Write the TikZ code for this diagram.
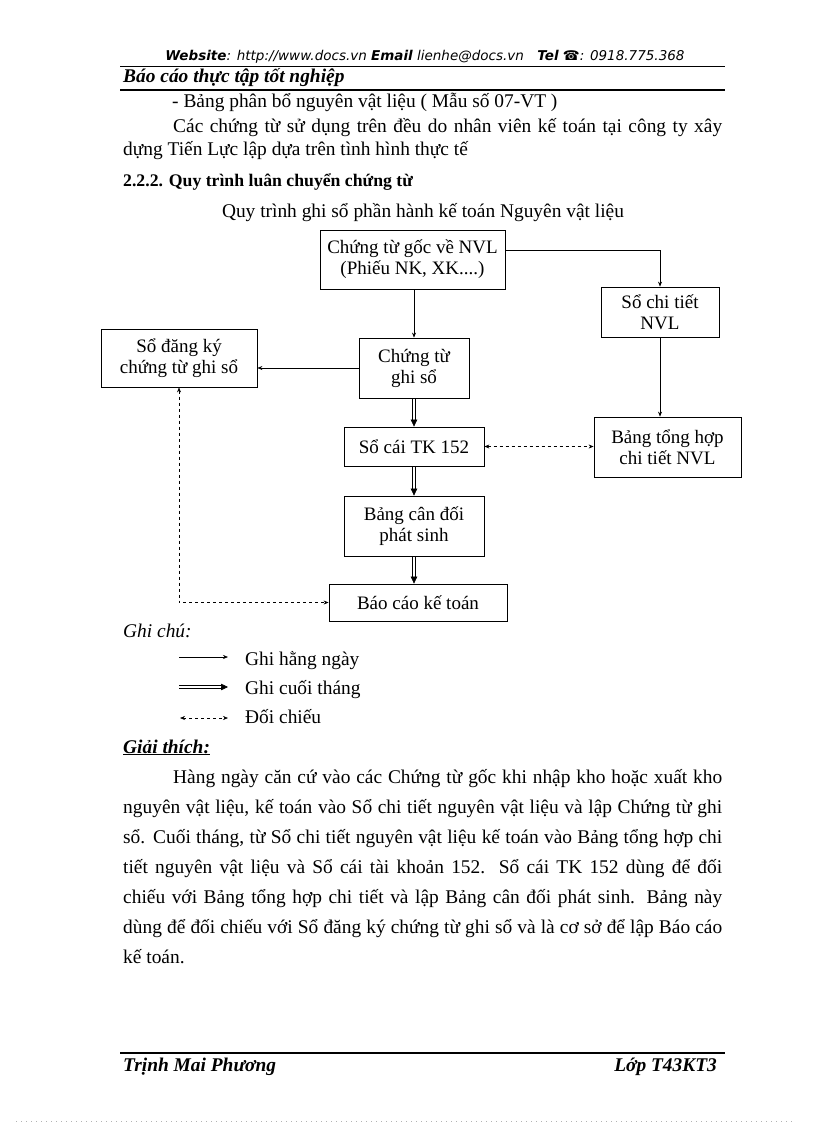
\documentclass[tikz,border=0pt]{standalone}
\usepackage{fontspec}
\usepackage{graphicx}
\setmainfont{Liberation Serif}
\newfontfamily\hdrfont{DejaVu Sans}
\usetikzlibrary{arrows.meta,calc}
\newcommand{\bodyfs}{\fontsize{19.4}{22}\selectfont}
\newcommand{\boxfs}{\fontsize{19}{21}\selectfont}
\newsavebox\jbox
\newcommand{\jline}[2]{\sbox\jbox{#2}\ifdim\wd\jbox>#1\resizebox{#1}{\height}{#2}\else\makebox[#1][s]{#2}\fi}
\begin{document}
\begin{tikzpicture}[x=1pt,y=-1pt,
  box/.style={draw, line width=0.8pt, inner sep=0pt, align=center, font=\boxfs},
  daily/.style={line width=0.6pt, -{Stealth[length=5pt,width=4pt]}},
  mline/.style={line width=0.7pt},
  tipf/.style={line width=0.6pt, -{Triangle[length=7pt,width=6.5pt]}},
  cmp/.style={line width=0.6pt, dash pattern=on 3pt off 3pt, {Stealth[length=5pt,width=4pt]}-{Stealth[length=5pt,width=4pt]}},
  txt/.style={anchor=base west, inner sep=0pt, font=\bodyfs},
  rtxt/.style={anchor=base east, inner sep=0pt, font=\bodyfs},
  ctxt/.style={anchor=base, inner sep=0pt, font=\bodyfs},
]
\useasboundingbox (0,0) rectangle (816,1123);
\fill[white] (0,0) rectangle (816,1123);

% ---- page header ----
\node[ctxt, font=\hdrfont\itshape\fontsize{13.5}{15}\selectfont] (web) at (425,61)
  {\textbf{Website}: http://www.docs.vn \textbf{Email} lienhe@docs.vn\quad\textbf{Tel} ☎: 0918.775.368};
\draw[line width=0.6pt] (120,66.5) -- (725,66.5);
\node[txt, font=\bodyfs\bfseries\itshape] (title) at (123,83) {Báo cáo thực tập tốt nghiệp};
\draw[line width=2pt] (120,90) -- (725,90);

% ---- text above ----
\node[txt] (l1) at (172,108) {- Bảng phân bổ nguyên vật liệu ( Mẫu số 07-VT )};
\node[txt] (l2) at (173,133) {\jline{549pt}{Các chứng từ sử dụng trên đều do nhân viên kế toán tại công ty xây}};
\node[txt] (l3) at (123,156) {dựng Tiến Lực lập dựa trên tình hình thực tế};
\node[txt, font=\fontsize{17.7}{20}\selectfont\bfseries] (sec) at (123,187) {2.2.2. Quy trình luân chuyển chứng từ};
\node[ctxt] (cap) at (423,218) {Quy trình ghi sổ phần hành kế toán Nguyên vật liệu};

% ---- diagram boxes ----
\node[box, minimum width=185pt, minimum height=59pt] (A) at (412.5,259.5) {Chứng từ gốc về NVL\\(Phiếu NK, XK....)};
\node[box, minimum width=118pt, minimum height=50pt] (B) at (660,312) {Sổ chi tiết\\NVL};
\node[box, minimum width=156pt, minimum height=58pt] (C) at (179,358) {Sổ đăng ký\\chứng từ ghi sổ};
\node[box, minimum width=110pt, minimum height=60pt] (D) at (414,368) {Chứng từ\\ghi sổ};
\node[box, minimum width=140pt, minimum height=39pt] (E) at (414,446.5) {Sổ cái TK 152};
\node[box, minimum width=147pt, minimum height=60pt] (F) at (667.5,447) {Bảng tổng hợp\\chi tiết NVL};
\node[box, minimum width=140pt, minimum height=60pt] (G) at (414,526) {Bảng cân đối\\phát sinh};
\node[box, minimum width=178pt, minimum height=37pt] (H) at (418,602.5) {Báo cáo kế toán};

% ---- connectors ----
\draw[daily] (D.north |- A.south) -- (D.north);
\draw[daily] ([yshift=9pt]A.east) -| (B.north);
\draw[daily] (B.south) -- (B.south |- F.north);
\draw[daily] (D.west) -- (D.west -| C.east);
% monthly (double) arrows
\coordinate (hT) at (G.south |- H.north);
\foreach \s/\t in {D.south/E.north, E.south/G.north, G.south/hT} {
  \draw[mline, shorten >=5pt] ([xshift=-1.3pt]\s) -- ([xshift=-1.3pt]\t);
  \draw[mline, shorten >=5pt] ([xshift=1.3pt]\s) -- ([xshift=1.3pt]\t);
  \draw[tipf] ([yshift=7pt]\t) -- (\t);
}
\draw[cmp] (E.east) -- (E.east -| F.west);
\draw[cmp] (C.south) |- (H.west);

% ---- legend ----
\node[txt, font=\bodyfs\itshape] (gc) at (123,637) {Ghi chú:};
\coordinate (a1) at (179,657); \coordinate (b1) at (228,657);
\coordinate (a2) at (179,687); \coordinate (b2) at (228,687);
\coordinate (a3) at (180,718); \coordinate (b3) at (228,718);
\draw[daily] (a1) -- (b1);
\draw[mline, shorten >=5pt] ([yshift=1.3pt]a2) -- ([yshift=1.3pt]b2);
\draw[mline, shorten >=5pt] ([yshift=-1.3pt]a2) -- ([yshift=-1.3pt]b2);
\draw[tipf] ([xshift=-7pt]b2) -- (b2);
\draw[cmp] (a3) -- (b3);
\node[txt] (t1) at (245,665) {Ghi hằng ngày};
\node[txt] (t2) at (245,694) {Ghi cuối tháng};
\node[txt] (t3) at (245,723) {Đối chiếu};

% ---- explanation ----
\node[txt, font=\bodyfs\bfseries\itshape] (gt) at (123,753) {\underline{Giải thích:}};
\node[txt] (p1) at (173,783) {\jline{549pt}{Hàng ngày căn cứ vào các Chứng từ gốc khi nhập kho hoặc xuất kho}};
\node[txt] (p2) at (123,813) {\jline{599pt}{nguyên vật liệu, kế toán vào Sổ chi tiết nguyên vật liệu và lập Chứng từ ghi}};
\node[txt] (p3) at (123,843) {\jline{599pt}{sổ. Cuối tháng, từ Sổ chi tiết nguyên vật liệu kế toán vào Bảng tổng hợp chi}};
\node[txt] (p4) at (123,873) {\jline{599pt}{tiết nguyên vật liệu và Sổ cái tài khoản 152. Sổ cái TK 152 dùng để đối}};
\node[txt] (p5) at (123,903) {\jline{599pt}{chiếu với Bảng tổng hợp chi tiết và lập Bảng cân đối phát sinh. Bảng này}};
\node[txt] (p6) at (123,933) {\jline{599pt}{dùng để đối chiếu với Sổ đăng ký chứng từ ghi sổ và là cơ sở để lập Báo cáo}};
\node[txt] (p7) at (123,963) {kế toán.};

% ---- footer ----
\draw[line width=2pt] (120,1053) -- (725,1053);
\node[txt, font=\bodyfs\bfseries\itshape] (au) at (123,1071) {Trịnh Mai Phương};
\node[rtxt, font=\bodyfs\bfseries\itshape] (cl) at (717,1071) {Lớp T43KT3};
\draw[gray!60, line width=0.5pt, dash pattern=on 0.6pt off 4.4pt] (16,1121.5) -- (792,1121.5);
\end{tikzpicture}
\end{document}
